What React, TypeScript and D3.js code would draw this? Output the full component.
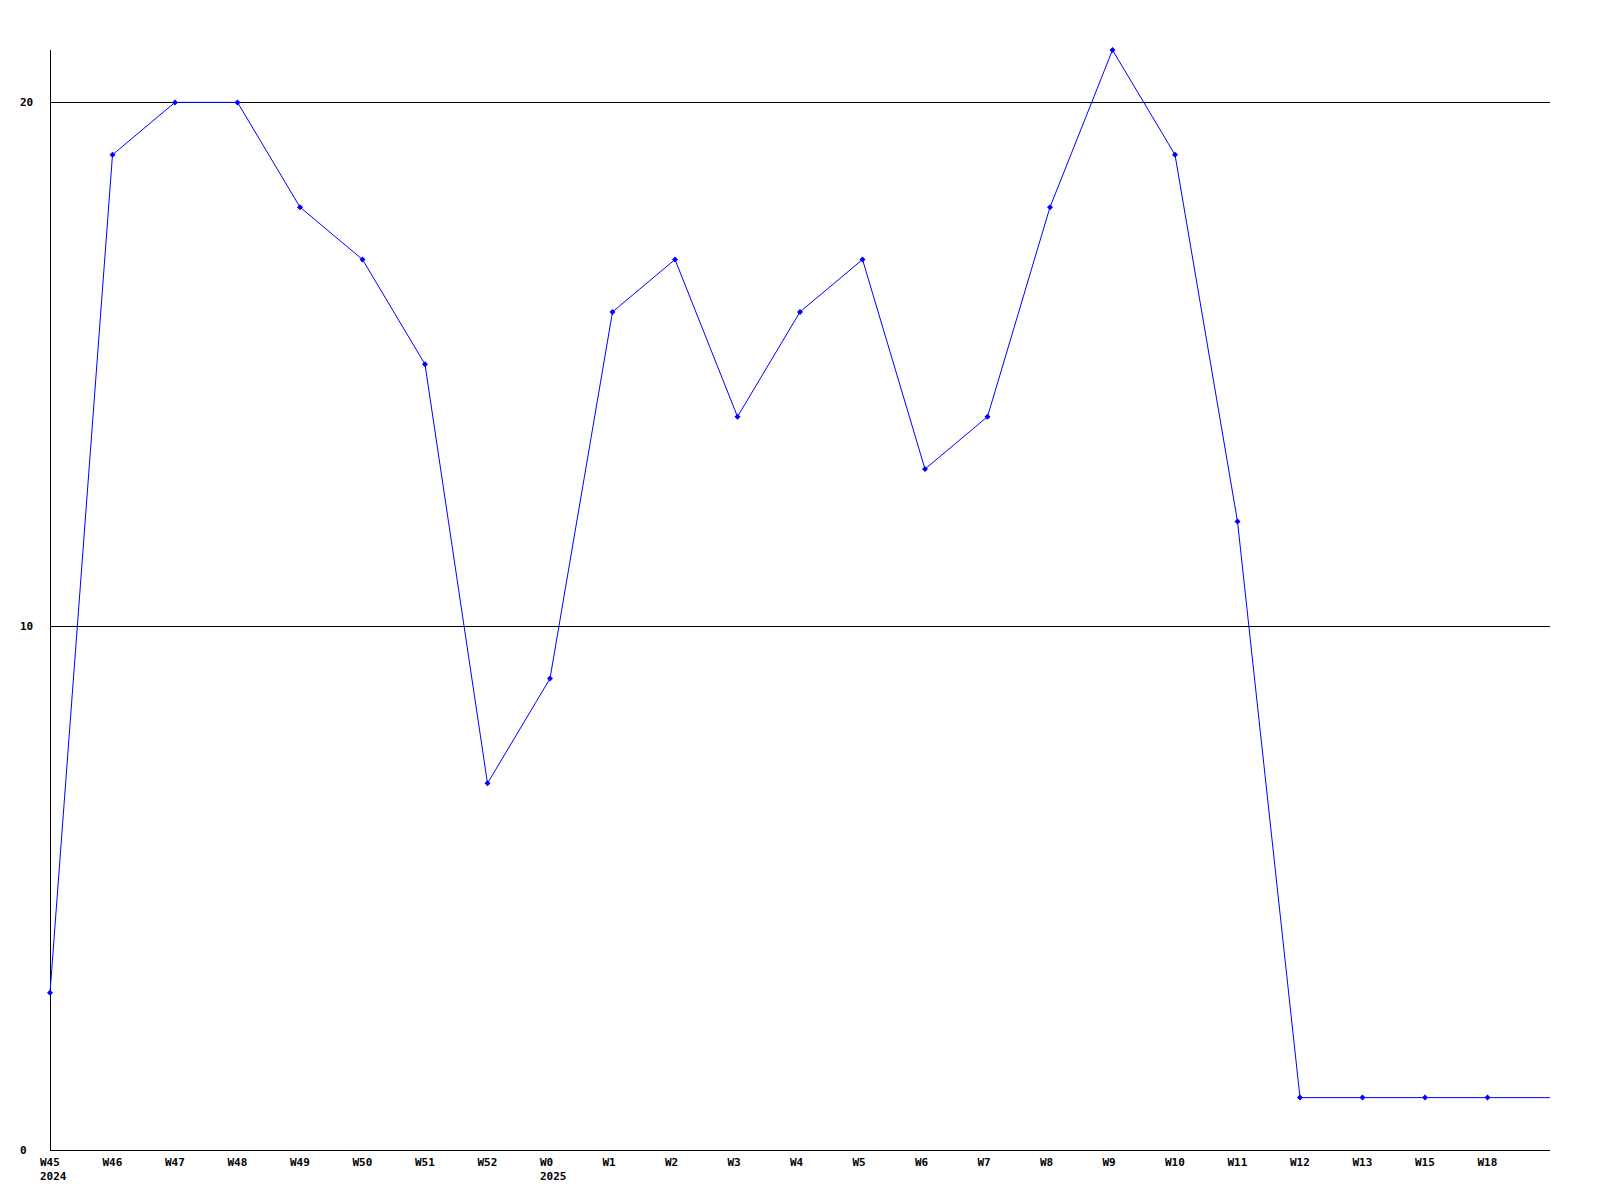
import React from "react";
import * as d3 from "d3";

const categories = ["W45","W46","W47","W48","W49","W50","W51","W52","W0","W1","W2","W3","W4","W5","W6","W7","W8","W9","W10","W11","W12","W13","W15","W18"];
const yearLabels: Record<string, string> = { W45: "2024", W0: "2025" };
const values = [3,19,20,20,18,17,15,7,9,16,17,14,16,17,13,14,18,21,19,12,1,1,1,1];
const yTicks = [0, 10, 20];

const W = 1600, H = 1200;
const left = 50, right = 1550, top = 50, bottom = 1150;

export default function App() {
  const x = d3.scaleLinear().domain([0, categories.length]).range([left, right]);
  const y = d3.scaleLinear().domain([0, 21]).range([bottom, top]);
  const pts: [number, number][] = values.map((v, i) => [x(i), y(v)]);
  const ext: [number, number][] = [...pts, [x(categories.length), y(values[values.length - 1])]];
  const line = d3.line<[number, number]>().x(d => d[0]).y(d => d[1]);
  const font = "'DejaVu Sans Mono', monospace";
  return (
    <svg width={W} height={H} style={{ position: "absolute", left: 0, top: 0, background: "#fff" }}>
      <rect x={0} y={0} width={W} height={H} fill="#fff" />
      {yTicks.filter(t => t > 0).map(t => (
        <line key={t} x1={left} x2={right} y1={Math.round(y(t)) + 0.5} y2={Math.round(y(t)) + 0.5} stroke="#000" strokeWidth={1} />
      ))}
      <line x1={left + 0.5} x2={left + 0.5} y1={top} y2={bottom + 0.5} stroke="#000" strokeWidth={1} />
      <line x1={left} x2={right} y1={bottom + 0.5} y2={bottom + 0.5} stroke="#000" strokeWidth={1} />
      {yTicks.map(t => (
        <text key={t} x={20} y={Math.round(y(t)) + 4} fontFamily={font} fontWeight="bold" fontSize={11} fill="#000">{t}</text>
      ))}
      {categories.map((c, i) => (
        <g key={c}>
          <text x={x(i) - 10} y={1166} fontFamily={font} fontWeight="bold" fontSize={11} fill="#000">{c}</text>
          {yearLabels[c] && (
            <text x={x(i) - 10} y={1180} fontFamily={font} fontWeight="bold" fontSize={11} fill="#000">{yearLabels[c]}</text>
          )}
        </g>
      ))}
      <path d={line(ext) || ""} fill="none" stroke="#0000ff" strokeWidth={1} />
      {pts.map((p, i) => (
        <path key={i} d={`M${p[0] - 3},${p[1]}L${p[0]},${p[1] - 3}L${p[0] + 3},${p[1]}L${p[0]},${p[1] + 3}Z`} fill="#0000ff" />
      ))}
    </svg>
  );
}
